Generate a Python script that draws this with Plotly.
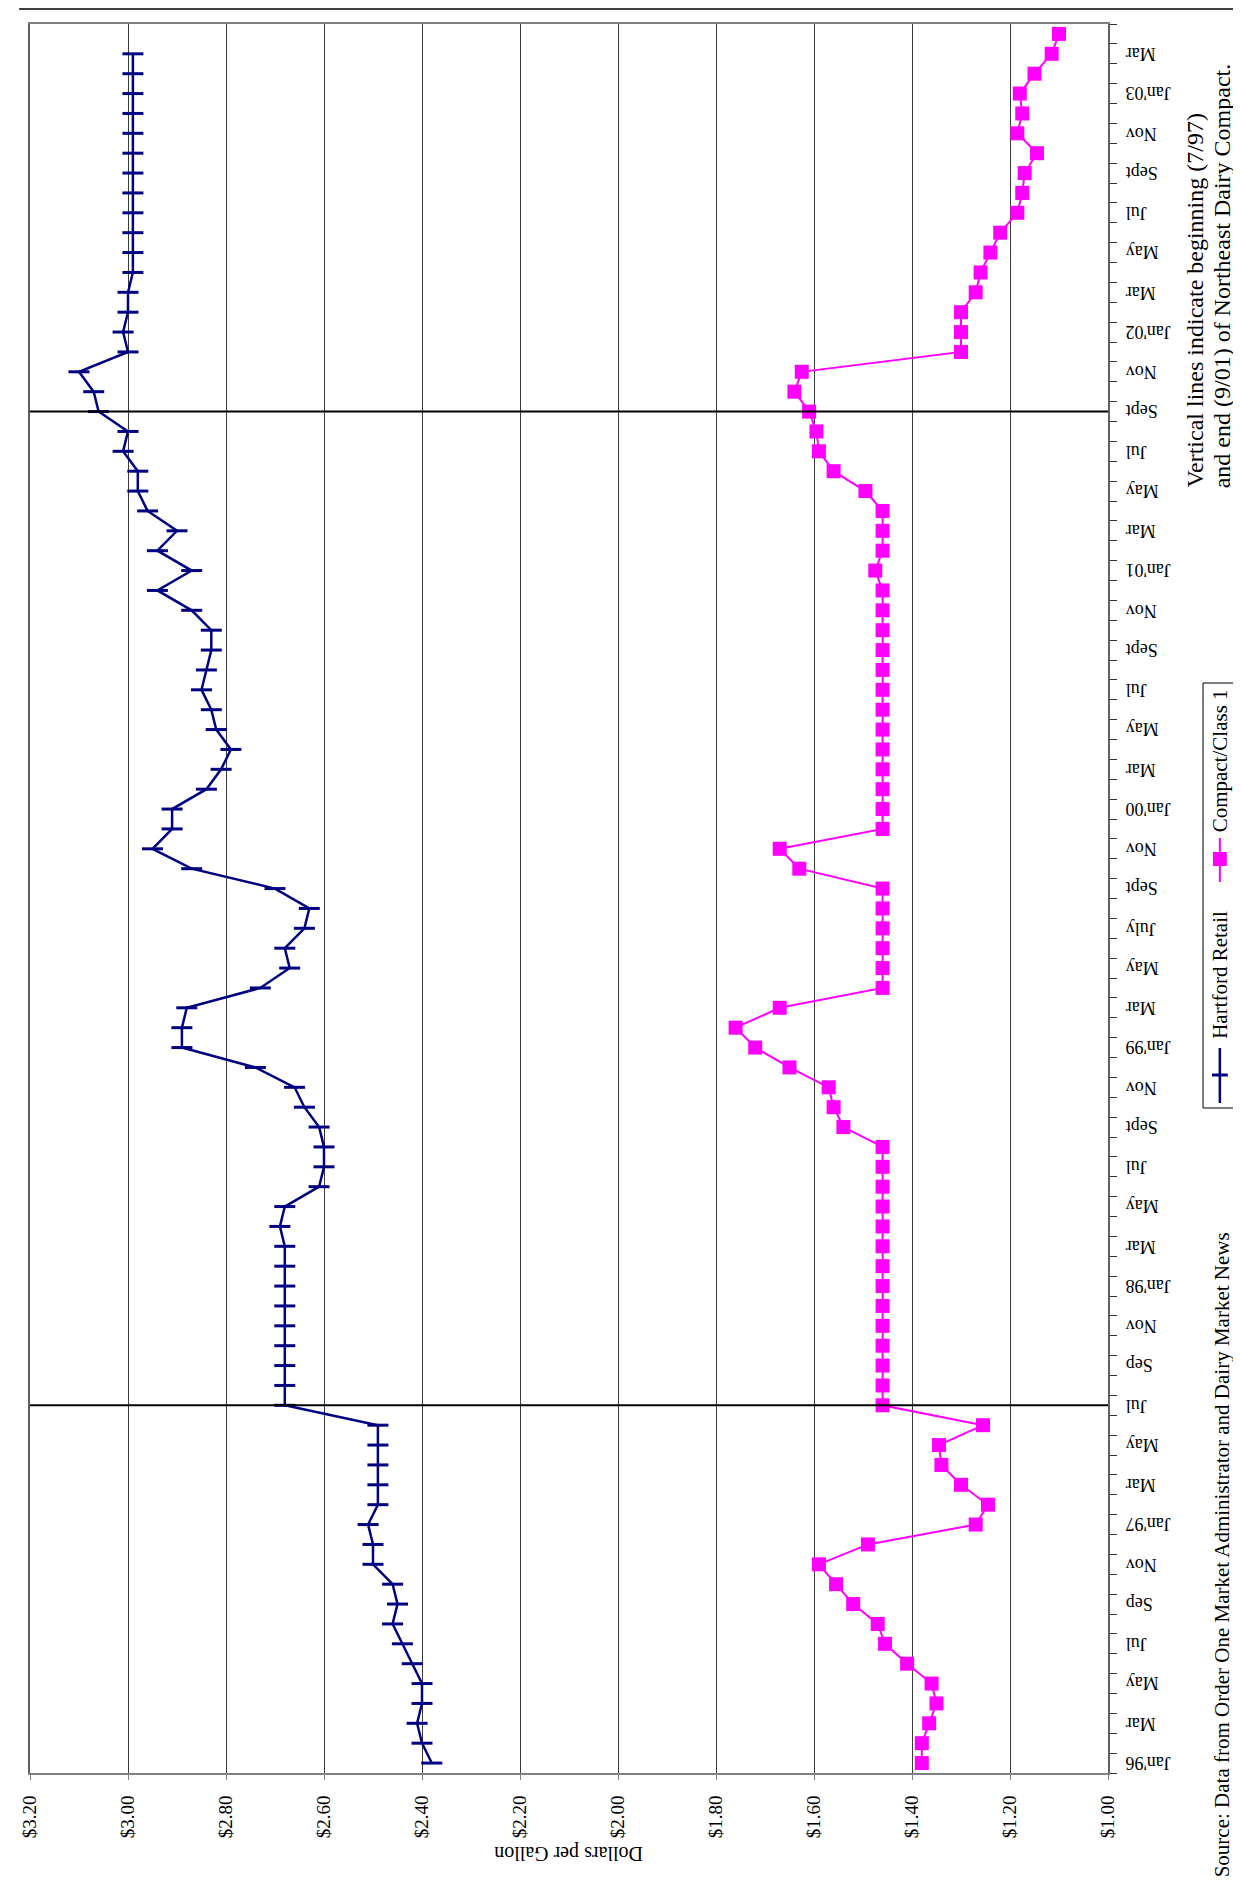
import plotly.graph_objects as go
import pandas as pd

# ---------------- data ----------------
months = pd.date_range("1996-01-01", "2003-04-01", freq="MS").strftime("%Y-%m").tolist()  # 88 categories

tick_labels = ["Jan'96", "Mar", "May", "Jul", "Sep", "Nov",
               "Jan'97", "Mar", "May", "Jul", "Sep", "Nov",
               "Jan'98", "Mar", "May", "Jul", "Sept", "Nov",
               "Jan'99", "Mar", "May", "July", "Sept", "Nov",
               "Jan'00", "Mar", "May", "Jul", "Sept", "Nov",
               "Jan'01", "Mar", "May", "Jul", "Sept", "Nov",
               "Jan'02", "Mar", "May", "Jul", "Sept", "Nov",
               "Jan'03", "Mar"]

hartford_retail = [2.38, 2.40, 2.41, 2.40, 2.40, 2.42, 2.44, 2.46, 2.45, 2.46,
                   2.50, 2.50, 2.51, 2.49, 2.49, 2.49, 2.49, 2.49, 2.68, 2.68,
                   2.68, 2.68, 2.68, 2.68, 2.68, 2.68, 2.68, 2.69, 2.68, 2.61,
                   2.60, 2.60, 2.61, 2.64, 2.66, 2.74, 2.89, 2.89, 2.88, 2.73,
                   2.67, 2.68, 2.64, 2.63, 2.70, 2.87, 2.95, 2.91, 2.91, 2.84,
                   2.81, 2.79, 2.82, 2.83, 2.85, 2.84, 2.83, 2.83, 2.87, 2.94,
                   2.87, 2.94, 2.90, 2.96, 2.98, 2.98, 3.01, 3.00, 3.06, 3.07,
                   3.10, 3.00, 3.01, 3.00, 3.00, 2.99, 2.99, 2.99, 2.99, 2.99,
                   2.99, 2.99, 2.99, 2.99, 2.99, 2.99, 2.99]

compact_class1 = [1.38, 1.38, 1.365, 1.35, 1.36, 1.41, 1.455, 1.47, 1.52, 1.555,
                  1.59, 1.49, 1.27, 1.245, 1.30, 1.34, 1.345, 1.255, 1.46, 1.46,
                  1.46, 1.46, 1.46, 1.46, 1.46, 1.46, 1.46, 1.46, 1.46, 1.46,
                  1.46, 1.46, 1.54, 1.56, 1.57, 1.65, 1.72, 1.76, 1.67, 1.46,
                  1.46, 1.46, 1.46, 1.46, 1.46, 1.63, 1.67, 1.46, 1.46, 1.46,
                  1.46, 1.46, 1.46, 1.46, 1.46, 1.46, 1.46, 1.46, 1.46, 1.46,
                  1.475, 1.46, 1.46, 1.46, 1.495, 1.56, 1.59, 1.595, 1.61, 1.64,
                  1.625, 1.30, 1.30, 1.30, 1.27, 1.26, 1.24, 1.22, 1.185, 1.175,
                  1.17, 1.145, 1.185, 1.175, 1.18, 1.15, 1.115, 1.10]

compact_start = "1997-07"
compact_end = "2001-09"

# ---------------- layout geometry (screen pixels; page body has an 8px margin) ----------------
OFF = 8
W, H = 1241 - OFF, 1881 - OFF
L_s, R_s, T_s, B_s = 19, 1108, 24, 1773
L, R, T, B = L_s - OFF, R_s - OFF, T_s - OFF, B_s - OFF
PW, PH = R - L, B - T
SERIF = "Liberation Serif"


def px(xs):
    return (xs - OFF - L) / PW


def py(ys):
    return (B - (ys - OFF)) / PH


fig = go.Figure()
fig.add_trace(go.Scatter(
    x=hartford_retail, y=months[:len(hartford_retail)], mode="lines+markers",
    name="Hartford Retail",
    line=dict(color="#000080", width=2.5),
    marker=dict(symbol="line-ew", size=15, color="#000080",
                line=dict(color="#000080", width=3)),
))
fig.add_trace(go.Scatter(
    x=compact_class1, y=months[:len(compact_class1)], mode="lines+markers",
    name="Compact/Class 1",
    line=dict(color="#FF00FF", width=2),
    marker=dict(symbol="square", size=14, color="#FF00FF"),
))

shapes = []
for m in (compact_start, compact_end):
    k = months.index(m)
    shapes.append(dict(type="line", xref="paper", yref="y", x0=0, x1=1, y0=k, y1=k,
                       line=dict(color="black", width=2), layer="above"))
# page rule at the very top
shapes.append(dict(type="line", xref="paper", yref="paper", x0=px(OFF), x1=px(1241),
                   y0=py(OFF + 1), y1=py(OFF + 1), line=dict(color="#404040", width=2)))
# legend box
shapes.append(dict(type="rect", xref="paper", yref="paper", x0=px(1204), x1=px(1237),
                   y0=py(1108), y1=py(683), line=dict(color="black", width=1),
                   fillcolor="white"))
# legend samples
shapes.append(dict(type="line", xref="paper", yref="paper", x0=px(1221), x1=px(1221),
                   y0=py(1103), y1=py(1048), line=dict(color="#000080", width=2.5)))
shapes.append(dict(type="line", xref="paper", yref="paper", x0=px(1213), x1=px(1229),
                   y0=py(1075), y1=py(1075), line=dict(color="#000080", width=3)))
shapes.append(dict(type="line", xref="paper", yref="paper", x0=px(1221), x1=px(1221),
                   y0=py(882), y1=py(838), line=dict(color="#FF00FF", width=2)))
shapes.append(dict(type="rect", xref="paper", yref="paper", x0=px(1214), x1=px(1228),
                   y0=py(866), y1=py(852), line=dict(color="#FF00FF", width=0),
                   fillcolor="#FF00FF"))

annotations = [
    dict(text="Dollars per Gallon", textangle=180, xref="paper", yref="paper",
         x=px((L_s + R_s) / 2), y=py(1853), xanchor="center", yanchor="middle",
         showarrow=False, font=dict(family=SERIF, size=20, color="black")),
    dict(text="Source: Data from Order One Market Administrator and Dairy Market News",
         textangle=-90, xref="paper", yref="paper", x=px(1223), y=py(1879),
         xanchor="center", yanchor="bottom", showarrow=False,
         font=dict(family=SERIF, size=21, color="black")),
    dict(text="Vertical lines indicate beginning (7/97)", textangle=-90,
         xref="paper", yref="paper", x=px(1196), y=py(490),
         xanchor="center", yanchor="bottom", showarrow=False,
         font=dict(family=SERIF, size=24, color="black")),
    dict(text="and end (9/01) of Northeast Dairy Compact.", textangle=-90,
         xref="paper", yref="paper", x=px(1224), y=py(490),
         xanchor="center", yanchor="bottom", showarrow=False,
         font=dict(family=SERIF, size=24, color="black")),
    dict(text="Hartford Retail", textangle=-90, xref="paper", yref="paper",
         x=px(1221), y=py(1041), xanchor="center", yanchor="bottom", showarrow=False,
         font=dict(family=SERIF, size=21, color="black")),
    dict(text="Compact/Class 1", textangle=-90, xref="paper", yref="paper",
         x=px(1221), y=py(834), xanchor="center", yanchor="bottom", showarrow=False,
         font=dict(family=SERIF, size=21, color="black")),
]

# month labels (upside down, every second month) placed on the category axis
for i, lab in enumerate(tick_labels):
    annotations.append(dict(
        text=lab, textangle=180, xref="paper", yref="y", x=px(1124), y=months[2 * i],
        xanchor="left", yanchor="middle", showarrow=False,
        font=dict(family=SERIF, size=18, color="black")))

fig.update_layout(
    width=W, height=H,
    margin=dict(l=L, r=W - R, t=T, b=H - B, pad=0),
    paper_bgcolor="white", plot_bgcolor="white",
    showlegend=False,
    shapes=shapes, annotations=annotations,
    xaxis=dict(
        range=[3.2, 1.0], tickmode="linear", tick0=1.0, dtick=0.2,
        tickprefix="$", tickformat=".2f", tickangle=-90,
        showgrid=True, gridcolor="#3a3a3a", gridwidth=1, zeroline=False,
        showline=True, linecolor="#808080", linewidth=2, mirror=True,
        ticks="outside", ticklen=5, tickcolor="#808080", ticklabelstandoff=8,
        tickfont=dict(family=SERIF, size=19, color="black"),
    ),
    yaxis=dict(
        type="category", categoryorder="array", categoryarray=months,
        range=[-0.5, len(months) - 0.5], side="right",
        tickmode="array", tickvals=months, showticklabels=False,
        tickson="boundaries", ticks="outside", ticklen=7, tickcolor="#333333",
        showgrid=False, zeroline=False,
        showline=True, linecolor="#606060", linewidth=2, mirror=True,
    ),
)

fig.write_html("out.html")
